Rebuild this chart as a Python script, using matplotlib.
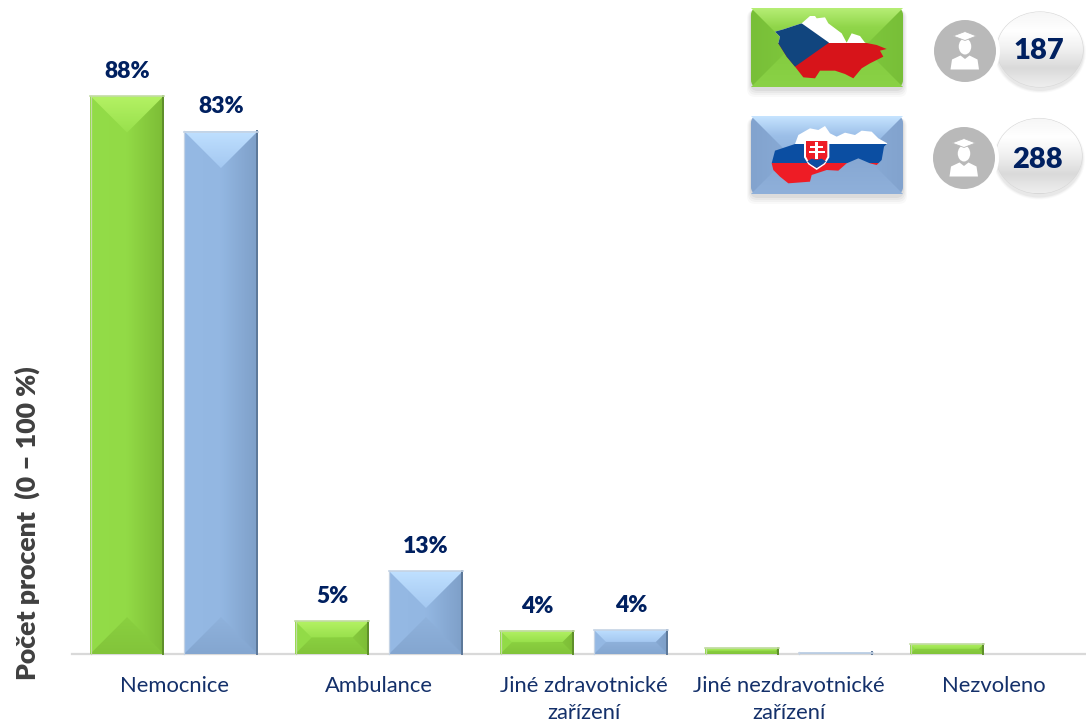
import matplotlib
matplotlib.use("Agg")
import matplotlib.pyplot as plt
import numpy as np
from matplotlib.colors import LinearSegmentedColormap
from matplotlib.patches import Circle, Ellipse, FancyBboxPatch, Polygon, Rectangle

plt.rcParams["font.family"] = ["Lato", "DejaVu Sans"]

categories = ["Nemocnice", "Ambulance", "Jiné zdravotnické\nzařízení",
              "Jiné nezdravotnické\nzařízení", "Nezvoleno"]
cz_values = [88.2, 5.2, 3.7, 1.0, 1.6]
sk_values = [82.6, 13.1, 3.8, 0.3, 0.0]
cz_labels = ["88%", "5%", "4%", "", ""]
sk_labels = ["83%", "13%", "4%", "", ""]
y_title = "Počet procent  (0 – 100 %)"
respondents = ["187", "288"]

W, H = 1086, 724
NAVY = "#002060"
LABEL = "#14306a"

GREEN = dict(top=["#b4f264", "#98e04c"], mid=["#93dc48", "#92da46", "#7cbc36"],
             bottom=["#8ad040", "#82c43a"], edge="#5f8f2b", rim="#c3dba6")
BLUE = dict(top=["#bfe0ff", "#a4c8f1"], mid=["#95b9e4", "#93b7e2", "#7e9fc8"],
            bottom=["#8fb2dc", "#84a6d0"], edge="#5d7899", rim="#c5d3e4")
GREEN_PANEL = dict(top=["#b8ef78", "#90d64a", "#84cd40"], mid=["#78bf38", "#84cd40", "#78bf38"],
                   bottom=["#83cb3f", "#8ad246"])
BLUE_PANEL = dict(top=["#c6e4ff", "#9cbfe8", "#90b3de"], mid=["#82a3ce", "#8fb2dd", "#82a3ce"],
                  bottom=["#86a7d2", "#8fb0da"])


def gradient(ov, box, colors, horizontal, clip):
    x0, y0, x1, y1 = box
    cmap = LinearSegmentedColormap.from_list("g", colors)
    ramp = np.linspace(0, 1, 128)
    data = ramp[None, :] if horizontal else ramp[:, None]
    im = ov.imshow(data, cmap=cmap, vmin=0, vmax=1, extent=(x0, x1, y1, y0),
                   aspect="auto", interpolation="bilinear", zorder=3)
    im.set_clip_path(clip)


def bevel(ov, x0, y0, x1, y1, style, rounding=0.0):
    # pyramid look: lit top, dark bottom, shaded sides
    d = min((x1 - x0) / 2, (y1 - y0) / 2)
    if rounding:
        outline = FancyBboxPatch((x0, y0), x1 - x0, y1 - y0,
                                 boxstyle=f"round,pad=0,rounding_size={rounding}",
                                 fc="none", ec="none", zorder=3)
    else:
        outline = Rectangle((x0, y0), x1 - x0, y1 - y0, fc="none", ec="none", zorder=3)
    ov.add_patch(outline)
    gradient(ov, (x0, y0, x1, y1), style["mid"], True, outline)

    for pts, box, cols in [
        ([(x0, y0), (x1, y0), (x1 - d, y0 + d), (x0 + d, y0 + d)], (x0, y0, x1, y0 + d), style["top"]),
        ([(x0, y1), (x1, y1), (x1 - d, y1 - d), (x0 + d, y1 - d)], (x0, y1 - d, x1, y1), style["bottom"]),
    ]:
        wedge = Polygon(pts, fc="none", ec="none", zorder=3)
        ov.add_patch(wedge)
        wedge.set_clip_path(outline)
        gradient(ov, box, cols, False, wedge)

    if not rounding:
        ov.plot([x1 - 0.8, x1 - 0.8], [y0, y1], color=style["edge"], lw=1.4, zorder=4)
        ov.plot([x0, x1], [y0 + 0.4, y0 + 0.4], color=style["rim"], lw=1.2, zorder=4)
        ov.plot([x0 + 0.4, x0 + 0.4], [y0, y1], color=style["rim"], lw=0.9, zorder=4)


def soft_shadow(ov, x0, y0, x1, y1):
    for grow, alpha in [(8, 0.025), (6, 0.03), (4, 0.035), (2, 0.05)]:
        ov.add_patch(FancyBboxPatch((x0 - grow / 2, y0 + 2), x1 - x0 + grow, y1 - y0 + grow,
                                    boxstyle="round,pad=0,rounding_size=8",
                                    fc="black", ec="none", alpha=alpha, zorder=2))


def scaled(points, origin):
    return [(origin[0] + px / 3, origin[1] + py / 3) for px, py in points]


def czech_map(ov):
    origin = (745, 0)
    outline = scaled([(90, 95), (115, 88), (170, 70), (195, 48), (210, 48), (215, 55), (240, 52),
                      (250, 70), (270, 85), (290, 100), (305, 128), (320, 100), (345, 108),
                      (360, 128), (395, 135), (425, 147), (405, 152), (415, 170), (375, 190),
                      (350, 205), (325, 235), (300, 222), (270, 212), (225, 212), (210, 235),
                      (175, 232), (150, 200), (125, 170), (100, 130), (105, 110)], origin)
    shape = Polygon(outline, fc="none", ec="none", zorder=5)
    ov.add_patch(shape)
    parts = [([(80, 40), (440, 40), (440, 128), (80, 128)], "white"),
             ([(80, 128), (440, 128), (440, 240), (80, 240)], "#d7141a"),
             ([(80, 40), (170, 70), (252, 128), (150, 200), (80, 240)], "#11457e")]
    for pts, col in parts:
        p = Polygon(scaled(pts, origin), fc=col, ec="none", zorder=5)
        ov.add_patch(p)
        p.set_clip_path(shape)


def slovak_map(ov):
    origin = (730, 0)
    outline = scaled([(125, 490), (135, 452), (195, 432), (205, 405), (240, 385), (265, 390),
                      (285, 378), (300, 400), (320, 410), (345, 398), (375, 405), (395, 392),
                      (425, 395), (445, 415), (472, 430), (462, 440), (455, 480), (440, 495),
                      (420, 490), (385, 475), (350, 490), (325, 512), (290, 510), (245, 525),
                      (240, 545), (175, 550), (150, 530), (130, 510)], origin)
    shape = Polygon(outline, fc="none", ec="none", zorder=5)
    ov.add_patch(shape)
    parts = [([(110, 370), (480, 370), (480, 432), (110, 432)], "white"),
             ([(110, 432), (480, 432), (480, 490), (110, 490)], "#0b4ea2"),
             ([(110, 490), (480, 490), (480, 560), (110, 560)], "#ee1c25")]
    for pts, col in parts:
        p = Polygon(scaled(pts, origin), fc=col, ec="none", zorder=5)
        ov.add_patch(p)
        p.set_clip_path(shape)
    # coat of arms
    shield = [(222, 418), (298, 418), (298, 472), (285, 493), (260, 510), (235, 493), (222, 472)]
    ov.add_patch(Polygon(scaled(shield, origin), fc="white", ec="none", zorder=6))
    inner = [(228, 423), (292, 423), (292, 470), (281, 490), (260, 504), (239, 490), (228, 470)]
    ov.add_patch(Polygon(scaled(inner, origin), fc="#ee1c25", ec="none", zorder=6))
    hills = [(232, 484), (245, 476), (260, 480), (275, 476), (288, 484), (279, 492), (260, 504), (241, 492)]
    ov.add_patch(Polygon(scaled(hills, origin), fc="#0b4ea2", ec="none", zorder=7))
    for bx, by, bw, bh in [(255, 426, 10, 50), (241, 437, 38, 6), (236, 452, 48, 7)]:
        (cx, cy), = scaled([(bx, by)], origin)
        ov.add_patch(Rectangle((cx, cy), bw / 3, bh / 3, fc="white", ec="none", zorder=8))


def person(ov, cx, cy):
    grey = "#b9b9b9"
    ov.add_patch(Circle((cx, cy), 35, fc="white", ec="none", zorder=7))
    ov.add_patch(Circle((cx, cy), 31, fc=grey, ec="none", zorder=8))
    ov.add_patch(Ellipse((cx, cy - 4.5), 12.5, 16, fc="white", ec="none", zorder=9))
    ov.add_patch(Polygon([(cx - 12, cy - 15), (cx, cy - 19.5), (cx + 11.5, cy - 15), (cx, cy - 10.5)],
                         fc="white", ec=grey, lw=0.6, zorder=10))
    ov.add_patch(Polygon([(cx - 14.5, cy + 18.5), (cx - 13, cy + 8.5), (cx - 4.5, cy + 4.5),
                          (cx, cy + 8), (cx + 4.5, cy + 4.5), (cx + 12.5, cy + 8.5), (cx + 14, cy + 18.5)],
                         fc="white", ec="none", zorder=9))


def pill(ov, cx, cy, text, tx, ty):
    for grow, alpha in [(6, 0.02), (4, 0.03), (2, 0.04)]:
        ov.add_patch(Ellipse((cx, cy + 3), 86 + grow, 75 + grow, fc="black", ec="none",
                             alpha=alpha, zorder=2))
    shape = Ellipse((cx, cy), 86, 75, fc="none", ec="#d8d8d8", lw=0.8, zorder=3)
    ov.add_patch(shape)
    gradient(ov, (cx - 43, cy - 37.5, cx + 43, cy + 37.5),
             ["#f6f6f6", "#ffffff", "#f0f0f0", "#dadada", "#eeeeee"], False, shape)
    ov.text(tx, ty, text, color=NAVY, fontsize=21, fontweight="heavy",
            ha="center", va="center", zorder=10)


fig = plt.figure(figsize=(W / 100, H / 100), dpi=100)
ax = fig.add_axes([71.5 / W, (H - 654) / H, (W - 71.5) / W, 633 / H])
ax.set_xlim(-0.5, (W - 71.5) / 205 - 0.5)
ax.set_ylim(0, 100)

x = np.arange(len(categories))
offset = 0.229
bar_w = 0.36
cz_bars = ax.bar(x - offset, cz_values, bar_w, color="#93dc48")
sk_bars = ax.bar(x + offset, sk_values, bar_w, color="#93b7e2")

for side in ["top", "right", "left"]:
    ax.spines[side].set_visible(False)
ax.spines["bottom"].set_color("#d9d9d9")
ax.spines["bottom"].set_linewidth(1.6)
ax.set_yticks([])
ax.set_xticks(x)
ax.set_xticklabels(categories, fontsize=15.8, color=LABEL, linespacing=1.45)
ax.tick_params(axis="x", length=0, pad=15.5)

for bars, labels in [(cz_bars, cz_labels), (sk_bars, sk_labels)]:
    for rect, lab in zip(bars, labels):
        if lab:
            ax.annotate(lab, (rect.get_x() + rect.get_width() / 2, rect.get_height()),
                        xytext=(0, 17.5), textcoords="offset points", ha="center", va="center",
                        color=NAVY, fontsize=16.5, fontweight="heavy")

fig.text(27 / W, 1 - 523 / H, y_title, rotation=90, ha="center", va="center",
         fontsize=19.2, fontweight="heavy", color="#404040")

# overlay in image pixels, y going down
ov = fig.add_axes([0, 0, 1, 1], facecolor="none")
ov.set_xlim(0, W)
ov.set_ylim(H, 0)
ov.axis("off")

fig.canvas.draw()
for bars, style in [(cz_bars, GREEN), (sk_bars, BLUE)]:
    for rect in bars:
        if rect.get_height() <= 0:
            continue
        b = rect.get_window_extent()
        bevel(ov, b.x0, H - b.y1, b.x1, H - b.y0, style)

soft_shadow(ov, 751, 8, 903, 87)
bevel(ov, 751, 8, 903, 87, GREEN_PANEL, rounding=7)
czech_map(ov)
soft_shadow(ov, 751, 116, 903, 194)
bevel(ov, 751, 116, 903, 194, BLUE_PANEL, rounding=7)
slovak_map(ov)

pill(ov, 1040, 49.5, respondents[0], 1039, 51)
person(ov, 965, 51)
pill(ov, 1039, 156, respondents[1], 1037, 160)
person(ov, 964, 158)

fig.savefig("out.png", dpi=100)
